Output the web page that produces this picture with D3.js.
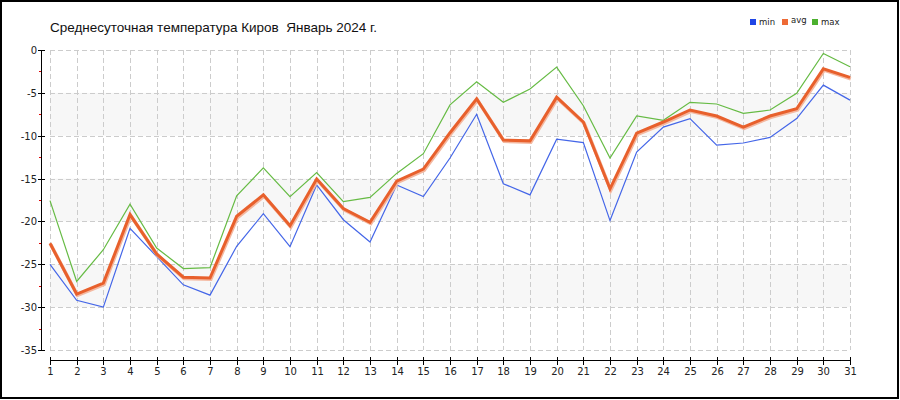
<!DOCTYPE html>
<html><head><meta charset="utf-8">
<script src="https://cdn.jsdelivr.net/npm/d3@7/dist/d3.min.js"></script>
<style>body{margin:0;background:#fff}svg{display:block}</style>
</head><body>
<script>
const days = d3.range(1, 32);
const minT = [-25.0,-29.2,-30.0,-20.8,-24.1,-27.4,-28.6,-22.9,-19.1,-22.95,-15.75,-19.8,-22.4,-15.75,-17.1,-12.6,-7.5,-15.6,-16.9,-10.4,-10.8,-19.9,-11.9,-9.0,-8.0,-11.1,-10.85,-10.2,-8.0,-4.1,-5.85];
const avgT = [-22.55,-28.47,-27.2,-19.2,-23.8,-26.5,-26.6,-19.4,-16.9,-20.5,-15.05,-18.5,-20.1,-15.3,-13.9,-9.65,-5.7,-10.5,-10.6,-5.5,-8.4,-16.2,-9.7,-8.4,-7.0,-7.7,-9.0,-7.7,-6.85,-2.2,-3.2];
const maxT = [-17.58,-27.0,-23.3,-18.0,-23.1,-25.5,-25.4,-17.0,-13.75,-17.1,-14.3,-17.7,-17.2,-14.4,-12.1,-6.4,-3.7,-6.1,-4.55,-2.0,-6.5,-12.6,-7.7,-8.2,-6.1,-6.3,-7.4,-7.0,-5.05,-0.4,-1.95];
const yTicks = [0,-5,-10,-15,-20,-25,-30,-35];
const title = "Среднесуточная температура Киров  Январь 2024 г.";
const legendItems = ["min","avg","max"];
const colors = {min:"#4466e8", avg:"#e8602c", max:"#66bb44"};
const legendColors = {min:"#1f45e6", avg:"#ee6a35", max:"#4bb02e"};

const W = 900, H = 400;
const svg = d3.select("body").append("svg").attr("width", W).attr("height", H);
svg.append("rect").attr("x",1).attr("y",1).attr("width",897).attr("height",397)
  .attr("fill","#fff").attr("stroke","#000").attr("stroke-width",2);

const x = d3.scaleLinear().domain([1,31]).range([50,850]);
const y = d3.scaleLinear().domain([-35,0]).range([350,50]);

// bands
[[-5,-10],[-15,-20],[-25,-30]].forEach(([a,b])=>{
  svg.append("rect").attr("x",x(1)).attr("y",y(a)).attr("width",x(31)-x(1)).attr("height",y(b)-y(a)).attr("fill","#f7f7f7");
});
// grid
const g = svg.append("g").attr("stroke","#cccccc").attr("stroke-dasharray","5,3").attr("shape-rendering","crispEdges");
yTicks.forEach(t=>g.append("line").attr("x1",x(1)).attr("x2",x(31)).attr("y1",Math.round(y(t))+0.5).attr("y2",Math.round(y(t))+0.5));
days.forEach(d=>g.append("line").attr("x1",Math.round(x(d))+0.5).attr("x2",Math.round(x(d))+0.5).attr("y1",y(0)).attr("y2",y(-35)));

// y axis
const ya = svg.append("g").attr("shape-rendering","crispEdges");
ya.append("line").attr("x1",41.5).attr("x2",41.5).attr("y1",y(0)).attr("y2",y(-35)+0.5).attr("stroke","#000");
yTicks.forEach(t=>{
  const yy = Math.round(y(t))+0.5;
  ya.append("line").attr("x1",38).attr("x2",45).attr("y1",yy).attr("y2",yy).attr("stroke","#000");
  ya.append("text").attr("x",37).attr("y",yy).attr("dy","0.35em").attr("text-anchor","end")
    .attr("font-family","DejaVu Sans").attr("font-size",10).attr("fill","#222").text(t);
});
d3.range(-2.5,-35,-5).forEach(t=>{
  const yy = Math.round(y(t))+0.5;
  ya.append("line").attr("x1",39).attr("x2",41).attr("y1",yy).attr("y2",yy).attr("stroke","#e00000");
});
// x axis
const xa = svg.append("g").attr("shape-rendering","crispEdges");
xa.append("line").attr("x1",x(1)).attr("x2",x(31)+1).attr("y1",360.5).attr("y2",360.5).attr("stroke","#000").attr("stroke-width",1.5);
days.forEach(d=>{
  const xx = Math.round(x(d))+0.5;
  xa.append("line").attr("x1",xx).attr("x2",xx).attr("y1",357).attr("y2",365).attr("stroke","#000");
  xa.append("text").attr("x",xx).attr("y",371).attr("dy","0.35em").attr("text-anchor","middle")
    .attr("font-family","DejaVu Sans").attr("font-size",10).attr("fill","#222").text(d);
});

const line = d3.line().x((v,i)=>x(days[i])).y(v=>y(v));
svg.append("path").attr("d",line(minT)).attr("fill","none").attr("stroke",colors.min).attr("stroke-width",1.2);
svg.append("path").attr("d",line(maxT)).attr("fill","none").attr("stroke",colors.max).attr("stroke-width",1.2);
svg.append("path").attr("d",line(avgT)).attr("fill","none").attr("stroke","#f4b8a0").attr("stroke-width",3.5).attr("transform","translate(0.8,1.3)");
svg.append("path").attr("d",line(avgT)).attr("fill","none").attr("stroke",colors.avg).attr("stroke-width",3);

// title
svg.append("text").attr("x",50).attr("y",32).style("white-space","pre").attr("xml:space","preserve")
  .attr("font-family","Liberation Sans, Arial").attr("font-size",13.5).attr("fill","#111").text(title);

// legend
const lx = [750,782,812];
legendItems.forEach((k,i)=>{
  svg.append("rect").attr("x",lx[i]).attr("y",19).attr("width",6).attr("height",6).attr("fill",legendColors[k]);
  svg.append("text").attr("x",lx[i]+9).attr("y",k==="avg"?22.5:25).attr("font-family","DejaVu Sans").attr("font-size",8.5).attr("fill","#222").text(k);
});
</script>
</body></html>
